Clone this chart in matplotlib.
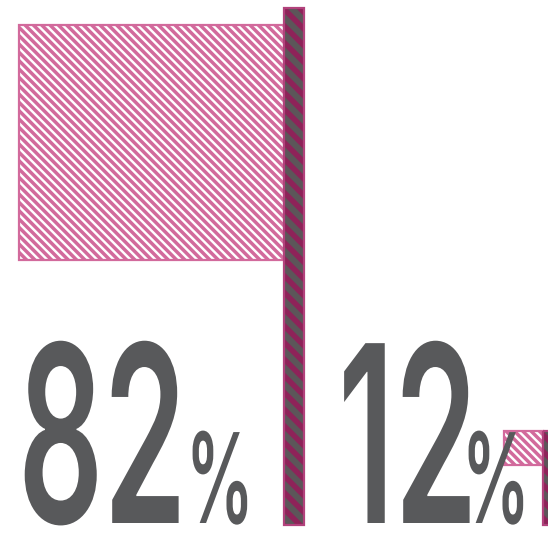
import matplotlib
matplotlib.use('Agg')
import matplotlib.pyplot as plt
from matplotlib.patches import Rectangle
from matplotlib.patheffects import AbstractPathEffect
from matplotlib.transforms import Affine2D

# shares shown as flags
values = [82, 12]
labels = ['82', '12']
unit = '%'

# flag geometry (pixels)
px_w = 3.23          # flag width per percent
px_h = 2.87          # flag height per percent
pole_left = [284, 543]
pole_top = [8, 431]
flag_top = [25, 431]
pole_w = 20
ground = 525
num_x = [18, 338]
pct_x = [186, 462]
baseline = 523

pink = '#d26a9c'
magenta = '#8e2359'
pole_edge = '#b2427c'
stripe = '#5c5659'
grey = '#58595b'


class Narrow(AbstractPathEffect):
    """Squeeze glyphs horizontally about the text anchor."""
    def __init__(self, sx):
        super().__init__()
        self.sx = sx

    def draw_path(self, renderer, gc, tpath, affine, rgbFace=None):
        x0 = affine.transform((0, 0))[0]
        t = affine + Affine2D().translate(-x0, 0).scale(self.sx, 1).translate(x0, 0)
        renderer.draw_path(gc, tpath, t, rgbFace)


fig = plt.figure(figsize=(5.48, 5.33), dpi=100)
ax = fig.add_axes([0, 0, 1, 1])
ax.set_xlim(0, 548)
ax.set_ylim(533, 0)
ax.axis('off')

for i, v in enumerate(values):
    w = v * px_w
    h = v * px_h
    # flag cloth
    flag = Rectangle((pole_left[i] - w, flag_top[i]), w, h, facecolor='white',
                     edgecolor=pink, hatch='\\\\\\\\', linewidth=1.6, zorder=2)
    flag.set_hatch_linewidth(2.5)
    ax.add_patch(flag)
    # pole: striped fill, then outline
    pole = Rectangle((pole_left[i], pole_top[i]), pole_w, ground - pole_top[i],
                     facecolor=magenta, edgecolor=stripe, hatch='\\\\',
                     linewidth=0, zorder=3)
    pole.set_hatch_linewidth(4.5)
    ax.add_patch(pole)
    ax.add_patch(Rectangle((pole_left[i], pole_top[i]), pole_w, ground - pole_top[i],
                           facecolor='none', edgecolor=pole_edge, linewidth=1.6,
                           zorder=4))

    ax.text(num_x[i], baseline, labels[i], fontsize=178, fontfamily='Inter',
            fontweight='semibold', color=grey, ha='left', va='baseline', zorder=5,
            path_effects=[Narrow(0.54)])
    ax.text(pct_x[i], baseline, unit, fontsize=90, fontfamily='Inter',
            fontweight='semibold', color=grey, ha='left', va='baseline', zorder=5,
            path_effects=[Narrow(0.54)])

fig.savefig('out.png', dpi=100)
